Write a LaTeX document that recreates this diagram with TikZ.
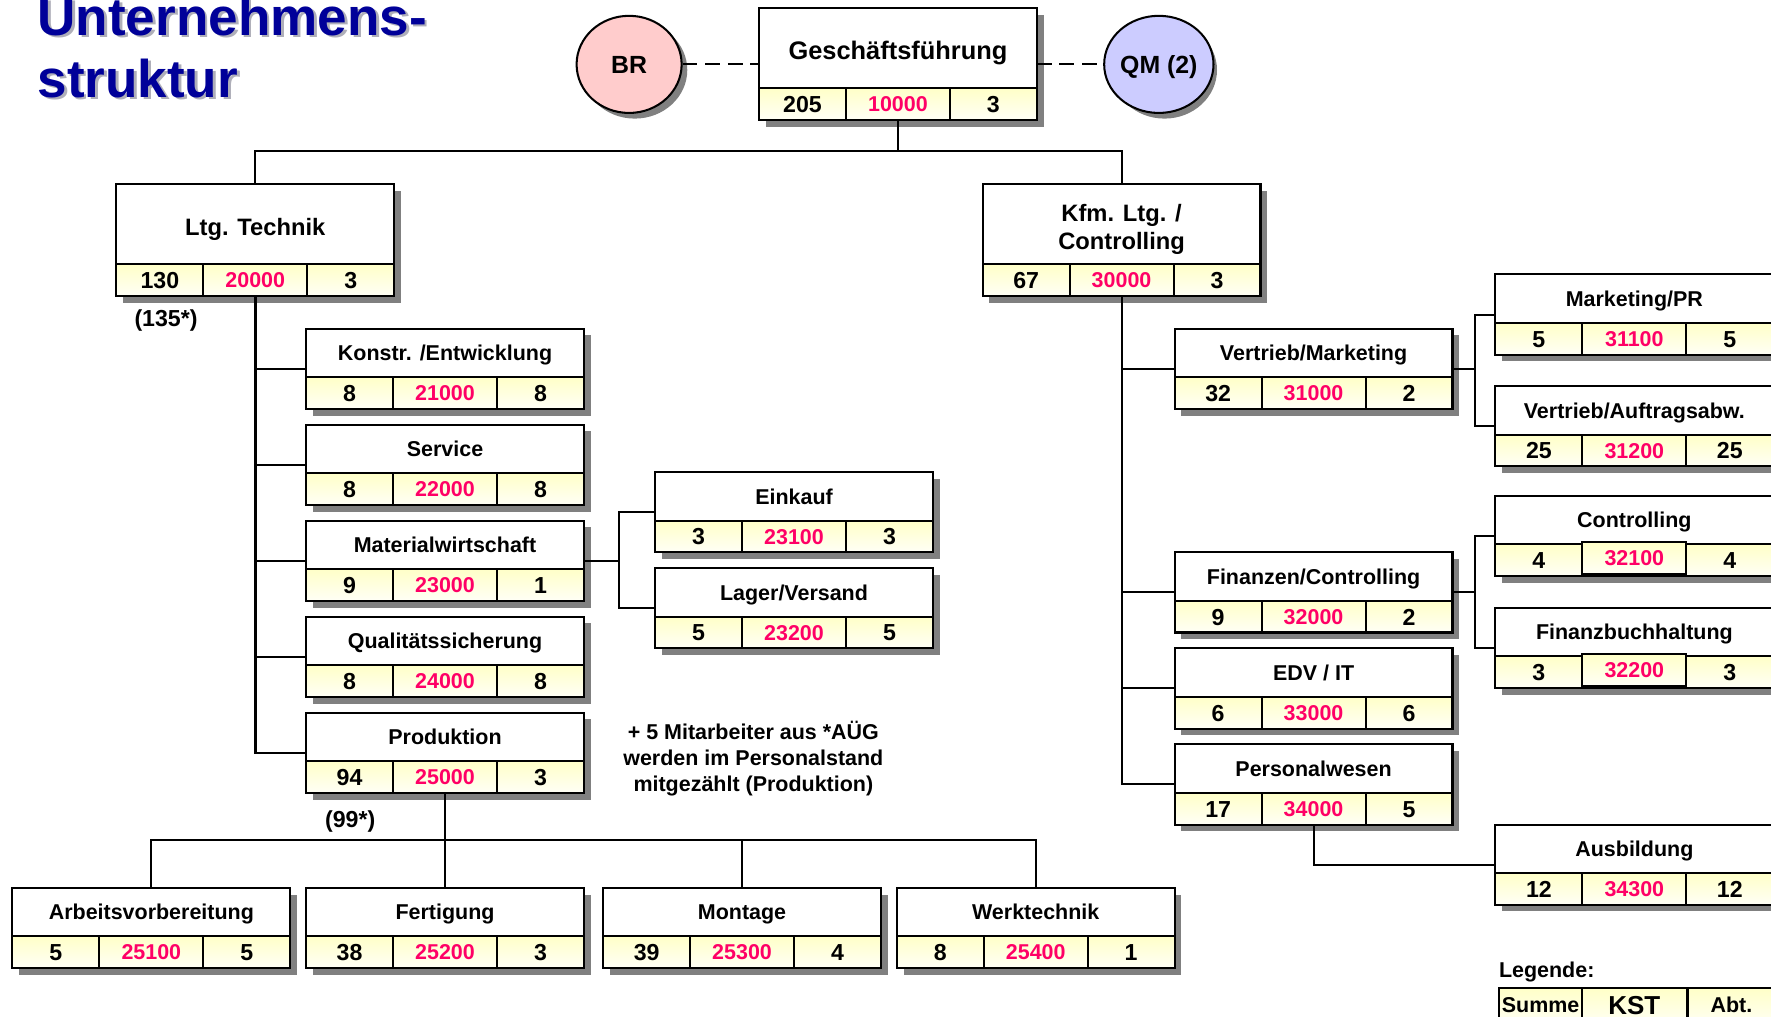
\documentclass[tikz,border=0pt]{standalone}
\usepackage{fontspec}
\setmainfont{Liberation Sans}
\usetikzlibrary{shapes.geometric}
\definecolor{kstred}{RGB}{255,0,102}
\definecolor{rowtop}{RGB}{255,255,200}
\definecolor{rowbot}{RGB}{255,255,246}
\definecolor{shad}{RGB}{128,128,128}
\definecolor{titleblue}{RGB}{0,0,153}
\definecolor{titleshad}{RGB}{175,175,185}
\definecolor{brfill}{RGB}{255,204,204}
\definecolor{qmfill}{RGB}{204,204,255}
\newcommand\fbig{\fontsize{21}{24}\selectfont\bfseries}
\newcommand\fsubt{\fontsize{19}{23}\selectfont\bfseries}
\newcommand\fgf{\fontsize{22.5}{26}\selectfont\bfseries}
\newcommand\fnum{\fontsize{20.5}{24}\selectfont\bfseries}
\newcommand\fkst{\fontsize{19}{23}\selectfont\bfseries}
\newcommand\fnote{\fontsize{19}{23}\selectfont\bfseries}
\newcommand\fttl{\fontsize{47}{55}\selectfont\bfseries}
\newcommand\fkstl{\fontsize{23}{27}\selectfont\bfseries}
\newcommand\fcirc{\fontsize{22}{26}\selectfont\bfseries}
\tikzset{
  bl/.style={line width=1.8pt},
  conn/.style={line width=1.8pt},
  num/.style={font=\fnum, text height=14.7pt, text depth=0pt, inner sep=0pt},
  kstnum/.style={font=\fkst, text=kstred, text height=13.6pt, text depth=0pt, inner sep=0pt},
  cell/.style={top color=rowtop, bottom color=rowbot},
  circ/.style={ellipse, draw, bl, minimum width=93pt, minimum height=86pt, inner sep=0pt,
    font=\fcirc, text height=15.7pt, text depth=0pt},
  circshad/.style={ellipse, fill=shad, minimum width=93pt, minimum height=86pt, inner sep=0pt},
}
% #1 name, #2 x, #3 y top, #4 title height, #5 title, #6 sum, #7 kst, #8 abt, #9 raise of kst cell
\newcommand\orgbox[9]{%
  \begin{scope}[shift={(#2,#3)}]
    \ifnum#4>60
      \tikzset{ttl/.style={font=\fbig, text height=15pt, text depth=0pt, inner sep=0pt}}%
      \def\ttloff{2.5}%
    \else
      \tikzset{ttl/.style={font=\fsubt, text height=13.6pt, text depth=0pt, inner sep=0pt}}%
      \def\ttloff{0}%
    \fi
    \fill[shad] (6,6) rectangle (252,#4+34);
    \fill[white] (0,0) rectangle (246,#4);
    \shade[cell] (0,#4) rectangle (246,#4+28);
    \draw[bl] (0,#4) -- (246,#4) (77,#4) -- (77,#4+28) (169,#4) -- (169,#4+28);
    \ifnum#9>0 \shade[cell,draw=black,bl] (77,#4-#9) rectangle (169,#4+28-#9);\fi
    \node[draw,bl,minimum width=246pt,minimum height={(#4+28)*1pt},anchor=north west,
      inner sep=0pt,outer sep=0pt] (#1) at (0,0) {};
    \node[ttl] (#1-t) at (123,#4/2+\ttloff) {#5};
    \node[num] (#1-a) at (38.5,#4+14) {#6};
    \node[kstnum] (#1-k) at (123,#4+14-#9) {#7};
    \node[num] (#1-b) at (207.5,#4+14) {#8};
  \end{scope}}
\begin{document}
\begin{tikzpicture}[x=1pt,y=-1pt]
\useasboundingbox (0,0) rectangle (1568,900);
\clip (0,0) rectangle (1568,900);

% title
\node[anchor=base west,font=\fttl,text=titleshad,inner sep=0pt] (ttl1s) at (35.5,33.5) {Unternehmens-};
\node[anchor=base west,font=\fttl,text=titleblue,inner sep=0pt] (ttl1) at (33,31) {Unternehmens-};
\node[anchor=base west,font=\fttl,text=titleshad,inner sep=0pt] (ttl2s) at (35.5,88.5) {struktur};
\node[anchor=base west,font=\fttl,text=titleblue,inner sep=0pt] (ttl2) at (33,86) {struktur};

% circles
\node[circshad] (brs) at (562,62) {};
\node[circ,fill=brfill] (br) at (557,57) {BR};
\node[circshad] (qms) at (1031,62) {};
\node[circ,fill=qmfill] (qm) at (1026,57) {QM (2)};

% boxes
\orgbox{gf}{672}{7}{71}{{\fgf Geschäftsführung}}{205}{10000}{3}{0}
\orgbox{ltg}{103}{163}{71}{Ltg. Technik}{130}{20000}{3}{0}
\orgbox{kfm}{870}{163}{71}{}{67}{30000}{3}{0}
\node[font=\fbig,anchor=base,inner sep=0pt] (kfm-t1) at (993,196.5) {Kfm. Ltg. /};
\node[font=\fbig,anchor=base,inner sep=0pt] (kfm-t2) at (993,221) {Controlling};

\orgbox{konstr}{271}{291}{43}{Konstr. /Entwicklung}{8}{21000}{8}{0}
\orgbox{service}{271}{376}{43}{Service}{8}{22000}{8}{0}
\orgbox{mat}{271}{461}{43}{Materialwirtschaft}{9}{23000}{1}{0}
\orgbox{qs}{271}{546}{43}{Qualitätssicherung}{8}{24000}{8}{0}
\orgbox{prod}{271}{631}{43}{Produktion}{94}{25000}{3}{0}
\orgbox{einkauf}{580}{418}{43}{Einkauf}{3}{23100}{3}{0}
\orgbox{lager}{580}{503}{43}{Lager/Versand}{5}{23200}{5}{0}

\orgbox{avb}{11}{786}{43}{Arbeitsvorbereitung}{5}{25100}{5}{0}
\orgbox{fert}{271}{786}{43}{Fertigung}{38}{25200}{3}{0}
\orgbox{mont}{534}{786}{43}{Montage}{39}{25300}{4}{0}
\orgbox{werk}{794}{786}{43}{Werktechnik}{8}{25400}{1}{0}

\orgbox{vm}{1040}{291}{43}{Vertrieb/Marketing}{32}{31000}{2}{0}
\orgbox{fc}{1040}{489}{43}{Finanzen/Controlling}{9}{32000}{2}{0}
\orgbox{edv}{1040}{574}{43}{EDV / IT}{6}{33000}{6}{0}
\orgbox{pw}{1040}{659}{43}{Personalwesen}{17}{34000}{5}{0}

\orgbox{mpr}{1324}{243}{43}{Marketing/PR}{5}{31100}{5}{0}
\orgbox{va}{1324}{342}{43}{Vertrieb/Auftragsabw.}{25}{31200}{25}{0}
\orgbox{ctrl}{1324}{439}{43}{Controlling}{4}{32100}{4}{2}
\orgbox{fbh}{1324}{538}{43}{Finanzbuchhaltung}{3}{32200}{3}{2}
\orgbox{ausb}{1324}{730}{43}{Ausbildung}{12}{34300}{12}{0}

% dashed links
\draw[conn,dash pattern=on 13pt off 7pt] (br.east) -- (br.east -| gf.west);
\draw[conn,dash pattern=on 13pt off 7pt] (gf.east) -- (gf.east -| qm.west);

% connectors
\path (gf.south) ++(0,28) coordinate (j1);
\draw[conn] (gf.south) -- (j1);
\draw[conn] (ltg.north) |- (j1) -| (kfm.north);

\foreach \n in {konstr,service,mat,qs,prod} \draw[conn] (ltg.south) |- (\n.west);
\draw[line width=2.5pt] (ltg.south) -- (ltg.south |- prod.west);

\path (mat.east) ++(31,0) coordinate (m1);
\draw[conn] (mat.east) -- (m1);
\draw[conn] (einkauf.west) -| (m1) |- (lager.west);

\path (prod.south) ++(0,42) coordinate (p1);
\draw[line width=2.5pt] (prod.south) -- (p1);
\draw[conn] (avb.north) |- (p1) -| (werk.north);
\draw[conn] (p1) -- (fert.north);
\draw[conn] (p1) -| (mont.north);

\foreach \n in {vm,fc,edv,pw} \draw[conn] (kfm.south) |- (\n.west);

\path (vm.east) ++(20,0) coordinate (v1);
\draw[conn] (vm.east) -- (v1);
\draw[conn] (mpr.west) -| (v1) |- (va.west);

\path (fc.east) ++(20,0) coordinate (f1);
\draw[conn] (fc.east) -- (f1);
\draw[conn] (ctrl.west) -| (f1) |- (fbh.west);

\draw[conn] (pw.south) |- (ausb.west);

% notes
\node[font=\fnum] (n135) at (147,284) {(135*)};
\node[font=\fnum] (n99) at (310,727) {(99*)};
\node[font=\fnote,align=center] (note) at (667,672) {+ 5 Mitarbeiter aus *AÜG\\werden im Personalstand\\mitgezählt (Produktion)};

% legend
\node[anchor=base west,font=\fsubt,inner sep=0pt] (legt) at (1327,865) {Legende:};
\shade[cell] (1327,875) rectangle (1600,908);
\draw[bl] (1327,875) rectangle (1600,908);
\draw[bl] (1401,875) -- (1401,908);
\draw[line width=3pt] (1494,875) -- (1494,908);
\node[anchor=base,font=\fsubt,inner sep=0pt] (leg1) at (1364,896) {Summe};
\node[anchor=base,font=\fkstl,inner sep=0pt] (leg2) at (1447,898) {KST};
\node[anchor=base,font=\fsubt,inner sep=0pt] (leg3) at (1533,896) {Abt.};
\end{tikzpicture}
\end{document}
